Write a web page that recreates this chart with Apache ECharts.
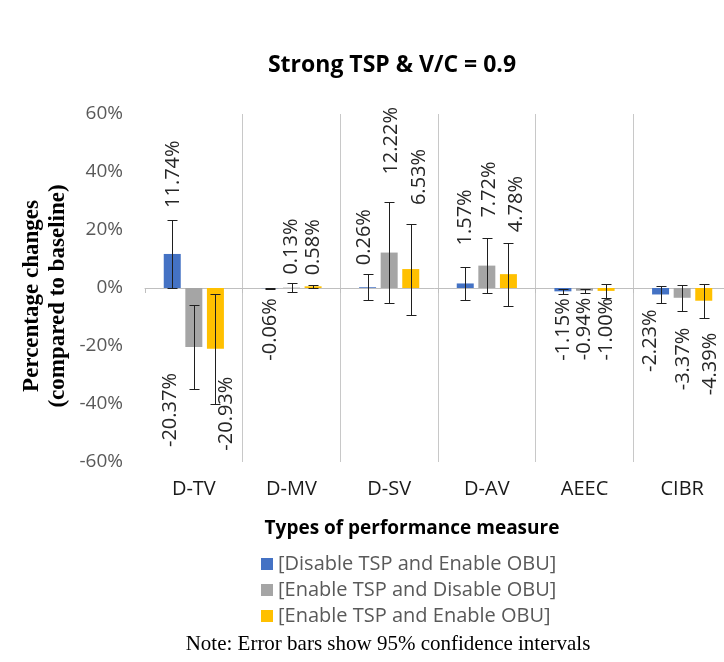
<!DOCTYPE html>
<html>
<head>
<meta charset="utf-8">
<script src="https://cdn.jsdelivr.net/npm/echarts@6/dist/echarts.min.js"></script>
<style>
  html, body { margin: 0; padding: 0; background: #fff; }
  #chart { width: 724px; height: 662px; }
</style>
</head>
<body>
<div id="chart"></div>
<script>
// Performance measures on the category axis
const categories = ['D-TV', 'D-MV', 'D-SV', 'D-AV', 'AEEC', 'CIBR'];

// Scenario names (legend)
const scenarioNames = [
  '[Disable TSP and Enable OBU]',
  '[Enable TSP and Disable OBU]',
  '[Enable TSP and Enable OBU]'
];

// Mean percentage change vs. baseline
const disableTspEnableObu = [11.74, -0.06, 0.26, 1.57, -1.15, -2.23];
const enableTspDisableObu = [-20.37, 0.13, 12.22, 7.72, -0.94, -3.37];
const enableTspEnableObu  = [-20.93, 0.58, 6.53, 4.78, -1.00, -4.39];

// Half-width of the 95% confidence interval
const ciDisableTspEnableObu = [11.7, 0.2, 4.4, 5.7, 0.75, 2.8];
const ciEnableTspDisableObu = [14.4, 1.6, 17.4, 9.6, 0.75, 4.4];
const ciEnableTspEnableObu  = [19.0, 0.6, 15.7, 10.9, 2.3, 5.8];

// Value axis ticks
const yTicks = [-60, -40, -20, 0, 20, 40, 60];

const seriesValues = [disableTspEnableObu, enableTspDisableObu, enableTspEnableObu];
const seriesCi = [ciDisableTspEnableObu, ciEnableTspDisableObu, ciEnableTspEnableObu];

// ---- styling ----
const COLORS = ['#4472C4', '#A5A5A5', '#FFC000'];
const SANS = '"Open Sans", "Noto Sans", sans-serif';
const SERIF = '"Liberation Serif", "DejaVu Serif", serif';
const BAR_W = 17;
const BAR_GAP = 0.27;
const CAP_W = 10;

// Manual data-label placement: gap from bar end and sideways shift (px)
const labelGap = [
  [46, 10, 22, 38, 7, 15],
  [26, 13, 78, 48, 7, 30],
  [28, 11, 64, 42, 7, 32]
];
const labelShift = [
  [1, 0, -3, 0, 0, -10],
  [-24, 0, 2, 2, 0, 1],
  [11, 0, 9, 8, 0, 7]
];

function barData(k) {
  return seriesValues[k].map((v, i) => {
    const up = v >= 0;
    return {
      value: v,
      label: {
        position: up ? 'top' : 'bottom',
        distance: labelGap[k][i],
        // label is rotated 90°, so the second offset component runs horizontally
        offset: [0, labelShift[k][i]],
        align: up ? 'left' : 'right',
        verticalAlign: 'middle'
      }
    };
  });
}

function errorData(k) {
  return seriesValues[k].map((v, i) => [i, v - seriesCi[k][i], v + seriesCi[k][i]]);
}

function errorRenderer(k) {
  return function (params, api) {
    const idx = api.value(0);
    const pLo = api.coord([idx, api.value(1)]);
    const pHi = api.coord([idx, api.value(2)]);
    const off = (k - 1) * BAR_W * (1 + BAR_GAP);
    const x = Math.round(pLo[0] + off) + 0.5;
    const yLo = Math.round(pLo[1]) + 0.5;
    const yHi = Math.round(pHi[1]) + 0.5;
    const st = { stroke: '#1f1f1f', lineWidth: 1 };
    return {
      type: 'group',
      children: [
        { type: 'line', shape: { x1: x, y1: yLo, x2: x, y2: yHi }, style: st },
        { type: 'line', shape: { x1: x - CAP_W / 2, y1: yLo, x2: x + CAP_W / 2, y2: yLo }, style: st },
        { type: 'line', shape: { x1: x - CAP_W / 2, y1: yHi, x2: x + CAP_W / 2, y2: yHi }, style: st }
      ]
    };
  };
}

const series = [];
for (let k = 0; k < 3; k++) {
  series.push({
    name: scenarioNames[k],
    type: 'bar',
    xAxisIndex: 0,
    barWidth: BAR_W,
    barGap: (BAR_GAP * 100) + '%',
    itemStyle: { color: COLORS[k] },
    label: {
      show: true,
      rotate: 90,
      formatter: p => p.value.toFixed(2) + '%',
      fontFamily: SANS,
      fontSize: 20,
      color: '#262626'
    },
    data: barData(k),
    z: 2
  });
}
for (let k = 0; k < 3; k++) {
  series.push({
    name: scenarioNames[k] + ' CI',
    type: 'custom',
    xAxisIndex: 0,
    renderItem: errorRenderer(k),
    encode: { x: 0, y: [1, 2] },
    data: errorData(k),
    z: 5,
    silent: true
  });
}

const chart = echarts.init(document.getElementById('chart'), null, { renderer: 'canvas' });
chart.setOption({
  animation: false,
  backgroundColor: '#ffffff',
  title: {
    text: 'Strong TSP & V/C = 0.9',
    left: 387,
    top: 49,
    textAlign: 'center',
    textStyle: { fontFamily: SANS, fontWeight: 'bold', fontSize: 23, color: '#000' }
  },
  grid: {
    left: 145, width: 586, top: 114, height: 348,
    containLabel: false,
    outerBoundsMode: 'none'
  },
  legend: {
    orient: 'vertical',
    left: 256,
    top: 549,
    icon: 'rect',
    itemWidth: 12,
    itemHeight: 12,
    itemGap: 6,
    data: scenarioNames,
    textStyle: { fontFamily: SANS, fontSize: 20, color: '#595959' },
    selectedMode: false
  },
  xAxis: [
    {
      type: 'category',
      data: categories,
      position: 'bottom',
      axisLine: { show: false, onZero: false },
      axisTick: { show: false },
      axisLabel: { fontFamily: SANS, fontSize: 20, color: '#1a1a1a', margin: 17 },
      splitLine: {
        show: true,
        interval: (i) => i !== 0,
        lineStyle: { color: '#c8c8c8', width: 1 }
      }
    },
    {
      type: 'category',
      data: categories,
      position: 'bottom',
      axisLine: { show: true, onZero: true, lineStyle: { color: '#bfbfbf', width: 1 } },
      axisTick: { show: true, length: 5, lineStyle: { color: '#bfbfbf' } },
      axisLabel: { show: false },
      splitLine: { show: false }
    }
  ],
  yAxis: {
    type: 'value',
    min: yTicks[0],
    max: yTicks[yTicks.length - 1],
    interval: yTicks[1] - yTicks[0],
    axisLine: { show: false },
    axisTick: { show: false },
    splitLine: { show: false },
    axisLabel: {
      formatter: v => v + '%',
      fontFamily: SANS,
      fontSize: 19,
      color: '#595959',
      margin: 22
    }
  },
  graphic: [
    {
      type: 'text',
      x: 45,
      y: 296,
      rotation: Math.PI / 2,
      style: {
        text: 'Percentage changes\n(compared to baseline)',
        font: 'bold 23px ' + SERIF,
        fill: '#000',
        align: 'center',
        verticalAlign: 'middle',
        lineHeight: 26
      }
    },
    {
      type: 'text',
      x: 412,
      y: 529,
      style: {
        text: 'Types of performance measure',
        font: 'bold 19px ' + SANS,
        fill: '#000',
        align: 'center',
        verticalAlign: 'middle'
      }
    },
    {
      type: 'text',
      x: 388,
      y: 644,
      style: {
        text: 'Note: Error bars show 95% confidence intervals',
        font: '21px ' + SERIF,
        fill: '#000',
        align: 'center',
        verticalAlign: 'middle'
      }
    }
  ],
  series: series
});
</script>
</body>
</html>
